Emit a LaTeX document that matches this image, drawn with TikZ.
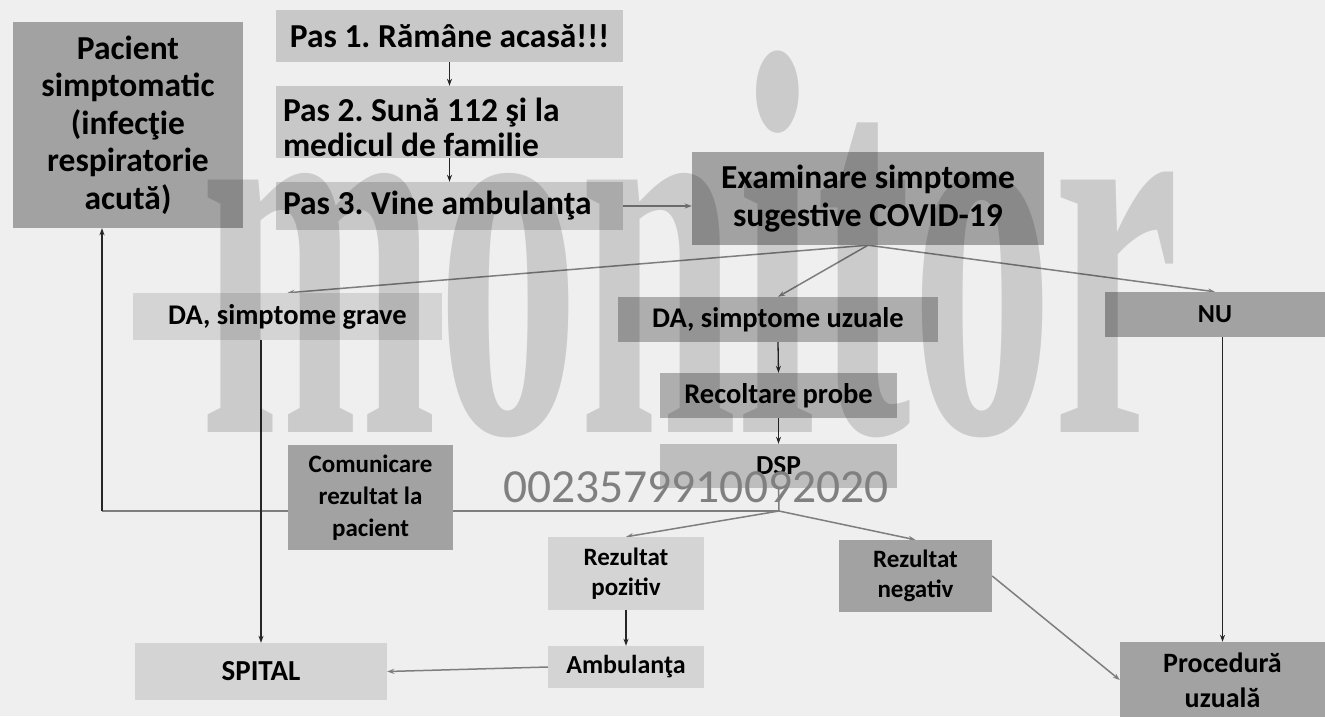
\documentclass[tikz,border=0pt]{standalone}
\usepackage{fontspec}
\setmainfont{Carlito}
\newfontfamily\wmfont{Liberation Serif}
\usepackage{graphicx}
\usetikzlibrary{arrows.meta,backgrounds}
\definecolor{bgc}{HTML}{EFEFEF}
\definecolor{cdark}{HTML}{A2A2A2}
\definecolor{cmid}{HTML}{AEAEAE}
\definecolor{cpas}{HTML}{C8C8C8}
\definecolor{clight}{HTML}{D4D4D4}
\definecolor{cdsp}{HTML}{BEBEBE}
\definecolor{cline}{HTML}{7E7E7E}
\newcommand\fBig{\fontsize{33.5}{37.5}\selectfont\bfseries\frenchspacing}
\newcommand\fSz[2]{\fontsize{#1}{#2}\selectfont\bfseries}
\tikzset{
  box/.style={draw=none, align=center, inner sep=0pt, text=black},
  karr/.style={-{Stealth[length=7pt,width=5pt]}, line width=1.3pt, black!85},
  garr/.style={-{Stealth[length=7pt,width=5pt]}, line width=1.5pt, cline},
  gline/.style={line width=1.5pt, cline},
}
\begin{document}
\begin{tikzpicture}[x=1pt,y=-1pt]
\useasboundingbox (0,0) rectangle (1325,716);
% nodes
\node[box, fill=cdark, minimum width=230pt, minimum height=206pt, font=\fBig] (pac) at (128,125) {Pacient\\simptomatic\\(infecţie\\respiratorie\\acută)};
\node[box, fill=cpas, minimum width=347pt, minimum height=52pt, font=\fBig] (p1) at (449.5,36) {Pas 1. Rămâne acasă!!!};
\node[box, fill=cpas, minimum width=347pt, minimum height=72pt, font=\fontsize{33.5}{35}\selectfont\bfseries\frenchspacing, text width=333pt, align=flush left] (p2) at (449.5,122) {\rule{0pt}{35pt}Pas 2. Sună 112 şi la\\medicul de familie};
\node[box, fill=cpas, minimum width=347pt, minimum height=48pt, font=\fBig, text width=333pt, align=flush left] (p3) at (449.5,206) {Pas 3. Vine ambulanţa};
\node[box, fill=cdark, minimum width=352pt, minimum height=93pt, font=\fBig] (exam) at (868,198.5) {Examinare simptome\\sugestive COVID-19};
\node[box, fill=clight, minimum width=309pt, minimum height=47pt, font=\fSz{28.5}{33}] (grave) at (287.5,316.5) {DA, simptome grave};
\node[box, fill=cmid, minimum width=320pt, minimum height=45pt, font=\fSz{28.5}{33}] (uz) at (778,319.5) {DA, simptome uzuale};
\node[box, fill=cdark, minimum width=220pt, minimum height=45pt, font=\fSz{26}{30}] (nu) at (1215,314.5) {NU};
\node[box, fill=cmid, minimum width=237pt, minimum height=45pt, font=\fSz{28.5}{33}] (rec) at (778.5,395.5) {Recoltare probe};
\node[box, fill=cdsp, minimum width=237pt, minimum height=44pt, font=\fSz{27.5}{32}] (dsp) at (778.5,466) {DSP};
\node[box, fill=cdark, minimum width=165pt, minimum height=105pt, font=\fSz{25}{32}] (com) at (370.5,497.5) {Comunicare\\rezultat la\\pacient};
\node[box, fill=clight, minimum width=156pt, minimum height=73pt, font=\fSz{25}{30}] (poz) at (626,573.5) {Rezultat\\pozitiv};
\node[box, fill=cdark, minimum width=153pt, minimum height=72pt, font=\fSz{25}{30}] (neg) at (915.5,576) {Rezultat\\negativ};
\node[box, fill=clight, minimum width=156pt, minimum height=42pt, font=\fSz{26}{30}] (amb) at (626,667) {Ambulanţa};
\node[box, fill=clight, minimum width=252pt, minimum height=57pt, font=\fSz{29}{33}] (spital) at (261,671.5) {SPITAL};
\node[box, fill=cdark, minimum width=205pt, minimum height=76pt, font=\fSz{28}{35}] (proc) at (1222.5,680) {Procedură\\uzuală};
\coordinate (j) at (779,511);
\coordinate (turn) at (102,511);
% connectors behind boxes
\begin{pgfonlayer}{background}
\fill[bgc] (0,0) rectangle (1325,716);
\draw[karr] (p1.south) -- (p2.north);
\draw[karr] (p2.south) -- (p3.north);
\draw[garr] (p3.east) -- (exam.west |- p3.east);
\draw[garr] (exam.south) -- (grave.north);
\draw[garr] (exam.south) -- (uz.north);
\draw[garr] (exam.south) -- (nu.north);
\draw[karr] (uz.south) -- (rec.north);
\draw[karr] (rec.south) -- (dsp.north);
\draw[gline] (dsp.south) -- (j);
\draw[garr] (j) -- (poz.north);
\draw[garr] (j) -- (neg.north);
\draw[gline] (j) -- (turn);
\draw[karr] (turn) -- (turn |- pac.south);
\draw[karr] (grave.south -| spital.north) -- (spital.north);
\draw[karr] (poz.south) -- (amb.north);
\draw[garr] (amb.west) -- (spital.east);
\draw[garr] (neg.east) -- (proc.west);
\draw[karr] (nu.south -| proc.north) -- (proc.north);
\end{pgfonlayer}
% stamp number
\node[anchor=base west, inner sep=0pt, text=black!50, font=\fontsize{47.5}{50}\selectfont] (num) at (503,502) {0023579910092020};
% watermark overlay
\node[anchor=base west, inner sep=0pt, text=black, text opacity=0.15] (wm) at (200,432) {\scalebox{0.517}[1]{\fontsize{550}{560}\selectfont\wmfont\bfseries monitor}};
\end{tikzpicture}
\end{document}
